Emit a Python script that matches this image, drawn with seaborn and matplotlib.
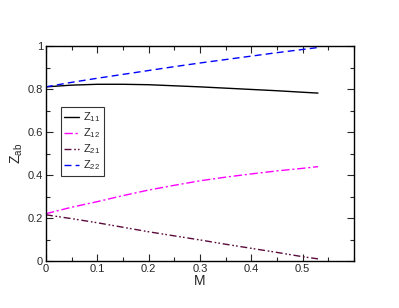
import matplotlib
matplotlib.use("Agg")
import matplotlib.pyplot as plt
import seaborn as sns
import pandas as pd
import numpy as np
from matplotlib.ticker import MultipleLocator

M = [0.0, 0.05, 0.1, 0.15, 0.2, 0.25, 0.3, 0.35, 0.4, 0.45, 0.5, 0.53]
Z11 = [0.810, 0.818, 0.822, 0.822, 0.820, 0.815, 0.810, 0.804, 0.798, 0.792, 0.785, 0.781]
Z12 = [0.220, 0.250, 0.276, 0.304, 0.330, 0.352, 0.373, 0.390, 0.405, 0.419, 0.431, 0.439]
Z21 = [0.215, 0.197, 0.178, 0.157, 0.136, 0.117, 0.098, 0.078, 0.059, 0.040, 0.020, 0.010]
Z22 = [0.810, 0.831, 0.850, 0.868, 0.886, 0.904, 0.921, 0.937, 0.953, 0.969, 0.984, 0.993]

sns.set_style("white")
plt.rcParams['font.family'] = ['Liberation Sans', 'DejaVu Sans']
plt.rcParams['mathtext.fontset'] = 'custom'
plt.rcParams['mathtext.rm'] = 'Liberation Sans'
plt.rcParams['mathtext.it'] = 'Liberation Sans:italic'
plt.rcParams['mathtext.default'] = 'regular'

fig = plt.figure(figsize=(3.99, 3.08), dpi=100)
ax = fig.add_axes([0.115, 0.1526, 0.772, 0.698])

series = [("Z11", Z11, "black", "-", r"Z$_{11}$"),
          ("Z12", Z12, "#ff00ff", (0, (6, 2, 1.5, 2)), r"Z$_{12}$"),
          ("Z21", Z21, "#5a0a3a", (0, (5, 2, 1.2, 1.5, 1.2, 2)), r"Z$_{21}$"),
          ("Z22", Z22, "#0000ff", (0, (5, 3)), r"Z$_{22}$")]
for name, vals, col, ls, lab in series:
    df = pd.DataFrame({"M": M, "Z": vals})
    sns.lineplot(data=df, x="M", y="Z", ax=ax, color=col, linestyle=ls, linewidth=1.0, label=lab)

ax.set_xlim(0, 0.6)
ax.set_ylim(0, 1)
ax.xaxis.set_minor_locator(MultipleLocator(0.05))
ax.yaxis.set_minor_locator(MultipleLocator(0.1))
ax.set_xticks([0, 0.1, 0.2, 0.3, 0.4, 0.5])
ax.set_xticklabels(["0", "0.1", "0.2", "0.3", "0.4", "0.5"])
ax.set_yticks([0, 0.2, 0.4, 0.6, 0.8, 1.0])
ax.set_yticklabels(["0", "0.2", "0.4", "0.6", "0.8", "1"])
ax.tick_params(which="both", direction="in", top=True, right=True, bottom=True, left=True, labelsize=8, pad=2)
ax.tick_params(which="major", length=5, width=0.8)
ax.tick_params(which="minor", length=3, width=0.8)
for s in ax.spines.values():
    s.set_color("black")
    s.set_linewidth(1.0)
ax.set_xlabel("M", fontsize=10, labelpad=0)
ax.set_ylabel(r"Z$_{ab}$", fontsize=10, labelpad=2)

leg = ax.legend(loc="upper left", bbox_to_anchor=(0.049, 0.716), fontsize=8, frameon=True,
                fancybox=False, edgecolor="black", handlelength=1.3, handletextpad=0.4,
                borderpad=0.3, labelspacing=0.2, borderaxespad=0)
leg.get_frame().set_linewidth(0.8)

fig.savefig("out.png", dpi=100)
